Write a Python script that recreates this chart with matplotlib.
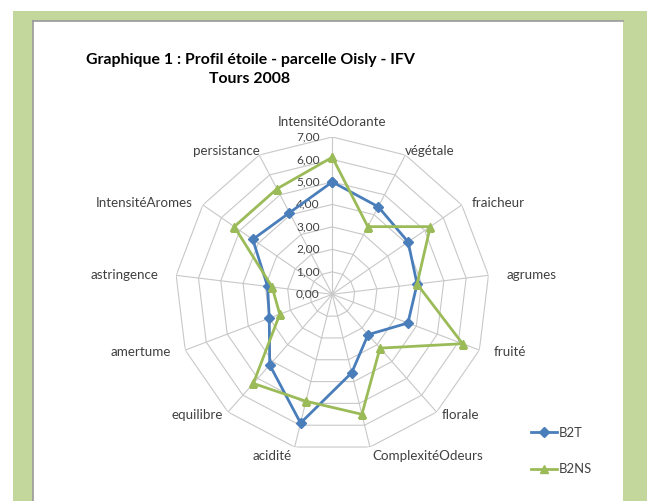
import numpy as np
import matplotlib.pyplot as plt
from matplotlib.patches import Rectangle
from matplotlib.lines import Line2D

# categories, clockwise from the top
categories = ['IntensitéOdorante', 'végétale', 'fraicheur', 'agrumes', 'fruité',
              'florale', 'ComplexitéOdeurs', 'acidité', 'equilibre', 'amertume',
              'astringence', 'IntensitéAromes', 'persistance']
b2t = [5.0, 4.4, 4.1, 3.8, 3.6, 2.4, 3.6, 5.9, 4.2, 3.0, 2.9, 4.3, 4.1]
b2ns = [6.1, 3.4, 5.3, 3.8, 6.2, 3.2, 5.5, 4.9, 5.3, 2.5, 2.7, 5.3, 5.3]
ring_levels = [0, 1, 2, 3, 4, 5, 6, 7]

plt.rcParams['font.family'] = ['Lato', 'DejaVu Sans']

W, H = 647, 501
fig = plt.figure(figsize=(W / 100, H / 100), dpi=100)
fig.patch.set_facecolor('white')

# green frame and white panel
fig.patches.append(Rectangle((13 / W, 0), (W - 13) / W, (H - 11) / H,
                             transform=fig.transFigure, facecolor='#C3D69B',
                             edgecolor='none', zorder=0))
fig.patches.append(Rectangle((33 / W, 0), 590 / W, (H - 21) / H,
                             transform=fig.transFigure, facecolor='white',
                             edgecolor='none', zorder=1))
fig.lines.append(Line2D([32.5 / W, 32.5 / W], [0, (H - 20.5) / H],
                        transform=fig.transFigure, color='#9A9A9A', lw=1.2, zorder=2))
fig.lines.append(Line2D([32.5 / W, 623 / W], [(H - 20.5) / H, (H - 20.5) / H],
                        transform=fig.transFigure, color='#9A9A9A', lw=1.2, zorder=2))

fig.text(250 / W, 1 - 69.5 / H, 'Graphique 1 : Profil étoile - parcelle Oisly - IFV\nTours 2008',
         ha='center', va='center', fontsize=11.4, fontweight='bold', color='black',
         linespacing=1.5, zorder=3)

cx, cy, rad = 332.3, 294.3, 157.3
ax = fig.add_axes([(cx - rad) / W, (H - cy - rad) / H, 2 * rad / W, 2 * rad / H],
                  projection='polar', zorder=4)
ax.set_facecolor('none')
ax.set_theta_zero_location('N')
ax.set_theta_direction(-1)
ax.set_ylim(0, 7)
ax.grid(False)
ax.spines['polar'].set_visible(False)
ax.set_xticks([])
ax.set_yticks([])

n = len(categories)
angles = np.linspace(0, 2 * np.pi, n, endpoint=False)
closed = np.append(angles, angles[0])

grid_color = '#C8C8C8'
for lev in ring_levels[1:]:
    ax.plot(closed, [lev] * (n + 1), color=grid_color, lw=0.8, zorder=1)
for a in angles:
    ax.plot([a, a], [0, 7], color=grid_color, lw=0.8, zorder=1)

for lev in ring_levels:
    ax.annotate(f'{lev:.2f}'.replace('.', ','), xy=(0, lev), xytext=(-9, 0),
                textcoords='offset points', ha='right', va='center',
                fontsize=8.6, color='#404040')

# category labels just outside the outer ring
for a, lab in zip(angles, categories):
    s, c = np.sin(a), np.cos(a)
    if abs(s) < 0.15:
        ha, va, off = 'center', 'center', (0, 11)
    elif c < -0.9:
        ha, va, off = ('left' if s > 0 else 'right'), 'top', (2 * np.sign(s), -2)
    else:
        ha = 'left' if s > 0 else 'right'
        va = 'center'
        off = (13 * s * abs(s) ** 2 - 2 * np.sign(s) * (abs(s) < 0.6), 3 * c)
    ax.annotate(lab, xy=(a, 7), xytext=off, textcoords='offset points',
                ha=ha, va=va, fontsize=9.6, color='#404040')

ax.plot(closed, b2t + b2t[:1], color='#4A7EBB', lw=2,
        marker='D', ms=5, label='B2T', zorder=3)
ax.plot(closed, b2ns + b2ns[:1], color='#9BBB59', lw=2,
        marker='^', ms=6, label='B2NS', zorder=3)

fig.legend(loc='center left', bbox_to_anchor=(519 / W, 1 - 451 / H), frameon=False,
           fontsize=9.4, labelspacing=1.85, handlelength=2.0, handletextpad=0.15,
           labelcolor='#404040')

fig.savefig('out.png', dpi=100)
